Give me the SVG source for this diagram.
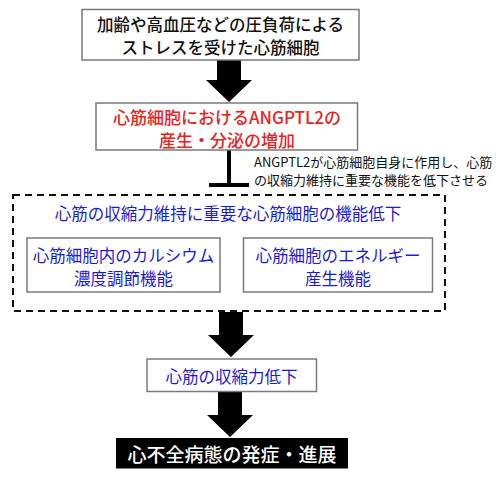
<svg xmlns="http://www.w3.org/2000/svg" width="500" height="479" viewBox="0 0 500 479">
<style>
text{font-family:"Noto Sans CJK JP","Noto Sans",sans-serif;text-anchor:middle;dominant-baseline:central}
.box{fill:#fff;stroke:#7a7a7a;stroke-width:1.5}
.blk{font-size:16.5px;fill:#111;font-weight:500}
.red{font-size:17px;fill:#e8231f;font-weight:500}
.blue{font-size:16.5px;fill:#1c1ccc}
.note{font-size:13px;fill:#111;text-anchor:start}
.arrow{fill:#000}
</style>
<rect width="500" height="479" fill="#fff"/>
<g id="connectors">
<polygon class="arrow" points="217,60 241,60 241,80 252,80 229,102 206,80 217,80"/>
<line x1="229" y1="150" x2="229" y2="184" stroke="#000" stroke-width="4"/>
<line x1="209" y1="185" x2="249" y2="185" stroke="#000" stroke-width="4"/>
<polygon class="arrow" points="219,312 243,312 243,335 254,335 231,357 208,335 219,335"/>
<polygon class="arrow" points="218,392 242,392 242,415 253,415 230,437 207,415 218,415"/>
</g>
<g id="stress">
<rect class="box" x="82" y="9.5" width="277" height="50.5"/>
<text class="blk" x="220.5" y="24">加齢や高血圧などの圧負荷による</text>
<text class="blk" x="220.5" y="47">ストレスを受けた心筋細胞</text>
</g>
<g id="angptl2">
<rect class="box" x="96" y="103" width="261.5" height="47"/>
<text class="red" x="227" y="116">心筋細胞におけるANGPTL2の</text>
<text class="red" x="227" y="139">産生・分泌の増加</text>
</g>
<g id="note">
<text class="note" x="254" y="161">ANGPTL2が心筋細胞自身に作用し、心筋</text>
<text class="note" x="254" y="179">の収縮力維持に重要な機能を低下させる</text>
</g>
<g id="function-decline">
<rect x="13" y="195" width="432" height="116" fill="none" stroke="#111" stroke-width="2" stroke-dasharray="7 5"/>
<text class="blue" x="228" y="213">心筋の収縮力維持に重要な心筋細胞の機能低下</text>
</g>
<g id="calcium">
<rect class="box" x="27" y="238" width="193" height="54"/>
<text class="blue" x="123.5" y="255">心筋細胞内のカルシウム</text>
<text class="blue" x="123.5" y="278">濃度調節機能</text>
</g>
<g id="energy">
<rect class="box" x="243.5" y="238" width="189" height="54"/>
<text class="blue" x="338" y="255">心筋細胞のエネルギー</text>
<text class="blue" x="338" y="278">産生機能</text>
</g>
<g id="contraction">
<rect class="box" x="147" y="359" width="169.5" height="32.5"/>
<text class="blue" x="231.5" y="376">心筋の収縮力低下</text>
</g>
<g id="heart-failure">
<rect x="116" y="438" width="232" height="30.5" fill="#000"/>
<text x="232" y="453" style="font-size:19px;fill:#fff;font-weight:500">心不全病態の発症・進展</text>
</g>
</svg>
